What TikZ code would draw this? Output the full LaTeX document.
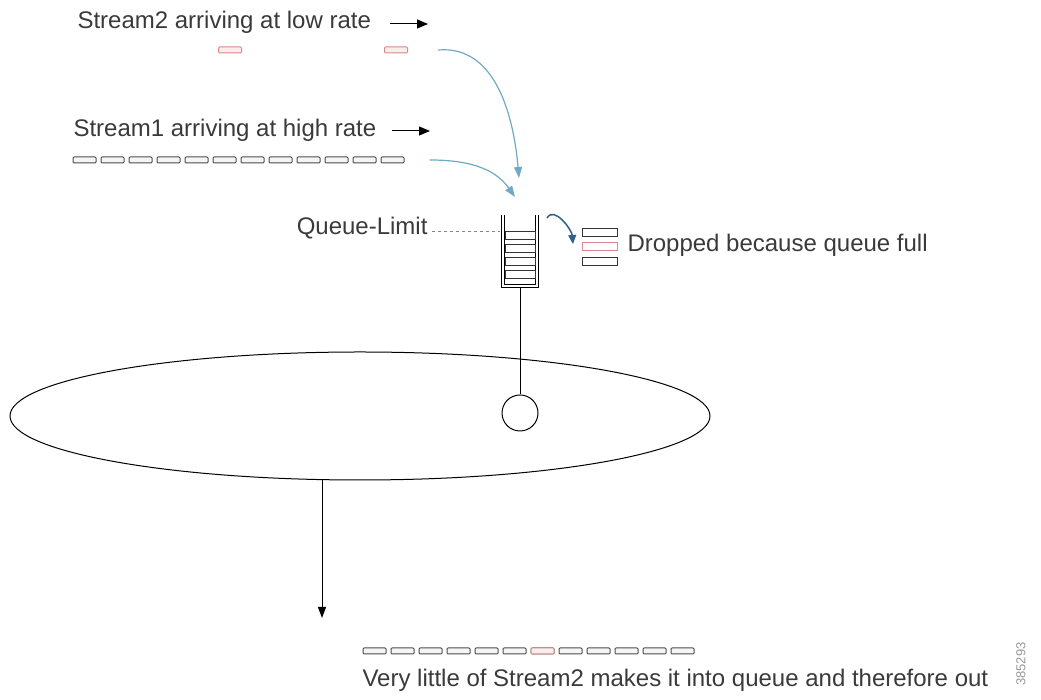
\documentclass[tikz,border=0pt]{standalone}
\usepackage{fontspec}
\setmainfont{Liberation Sans}
\usetikzlibrary{arrows.meta,shapes.geometric}
\definecolor{txtgray}{HTML}{3A3A3A}
\definecolor{flowblue}{HTML}{72A9C2}
\definecolor{dropblue}{HTML}{2F5F8C}
\definecolor{pktred}{HTML}{D88A8A}
\definecolor{limitblue}{HTML}{7C7CD6}
\tikzset{
  lbl/.style={text=txtgray, font=\fontsize{24}{26}\selectfont, inner sep=0},
  pkt/.style={draw=gray!60!black, fill=gray!8, rounded corners=1pt, minimum width=23pt, minimum height=6pt, inner sep=0, line width=1pt},
  redpkt/.style={pkt, draw=pktred, fill=pktred!15},
  qbox/.style={draw=black!80, fill=white, minimum width=30pt, minimum height=8pt, inner sep=0, line width=0.9pt},
  dropbox/.style={qbox, minimum width=35pt},
  flow/.style={-{Triangle[length=11pt,width=8pt]}, draw=flowblue, line width=1.2pt},
}
\begin{document}
\begin{tikzpicture}[x=1pt, y=1pt, line width=1pt]
\useasboundingbox (0,0) rectangle (1041,700);
%nodes
\node[lbl, anchor=west] at (77,678) (s2txt) {Stream2 arriving at low rate};
\node[lbl, anchor=west] at (73,570) (s1txt) {Stream1 arriving at high rate};
\node[lbl, anchor=east] at (428,472) (limit) {Queue-Limit};
\node[lbl, anchor=west] at (627,455) (droptxt) {Dropped because queue full};
\node[lbl, anchor=west] at (362,20) (outtxt) {Very little of Stream2 makes it into queue and therefore out};
\node[text=gray!80, font=\fontsize{13}{14}\selectfont, rotate=90, inner sep=0] at (1021,36) (fig) {385293};

\node[redpkt] at (230,650) (s2a) {};
\node[redpkt] at (396,650) (s2b) {};
\foreach \i in {0,...,11}
  \node[pkt] at (84.5+28*\i,540) (s1p\i) {};
\foreach \i in {0,...,11}
  \node[pkt] at (374.5+28*\i,49) (outp\i) {};
\node[redpkt] at (374.5+28*6,49) {};

%queue
\draw[double=white, double distance=2pt, line width=0.8pt] (503,485) -- (503,414) -- (537,414) -- (537,485);
\node[qbox] at (520,465) (q1) {};
\node[qbox] at (520,452) (q2) {};
\node[qbox] at (520,439) (q3) {};
\node[qbox] at (520,426) (q4) {};
\coordinate (qin1) at (519,522);
\coordinate (qin2) at (515,503);
\coordinate (qbot) at (520,413);
\coordinate (qlim) at (500,468);

\node[dropbox] at (600,468) (d1) {};
\node[dropbox, draw=pktred] at (600,454) (d2) {};
\node[dropbox] at (600,439) (d3) {};

\node[draw, ellipse, minimum width=700pt, minimum height=128pt, inner sep=0] at (360,284) (ring) {};
\node[draw, circle, minimum size=36pt, inner sep=0] at (520,287) (srv) {};
\coordinate (outend) at (322,82);

\coordinate (a2s) at (390,676);
\coordinate (a2e) at (428,676);
\coordinate (a1s) at (392,569);
\coordinate (a1e) at (430,569);
\coordinate (dropst) at (547,482);
\coordinate (dropen) at (573,456);

\draw[-{Triangle[length=11pt,width=9pt]}] (a2s) -- (a2e);
\draw[-{Triangle[length=11pt,width=9pt]}] (a1s) -- (a1e);
\draw[flow] (s2b.east) ++(30,0) to[out=5, in=95] (qin1);
\draw[flow] (s1p11.east) ++(25,0) to[out=0, in=125] (qin2);
\draw[limitblue, dashed, line width=1pt] (limit.east |- qlim) ++(4,0) -- (qlim);
\draw[dropblue, line width=1.5pt, -{Triangle[length=9pt,width=8pt]}] (dropst) to[out=60, in=95] (dropen);
\draw (qbot) -- (srv.north);
\draw[-{Triangle[length=11pt,width=8pt]}] (ring.south -| outend) -- (outend);
\end{tikzpicture}
\end{document}
